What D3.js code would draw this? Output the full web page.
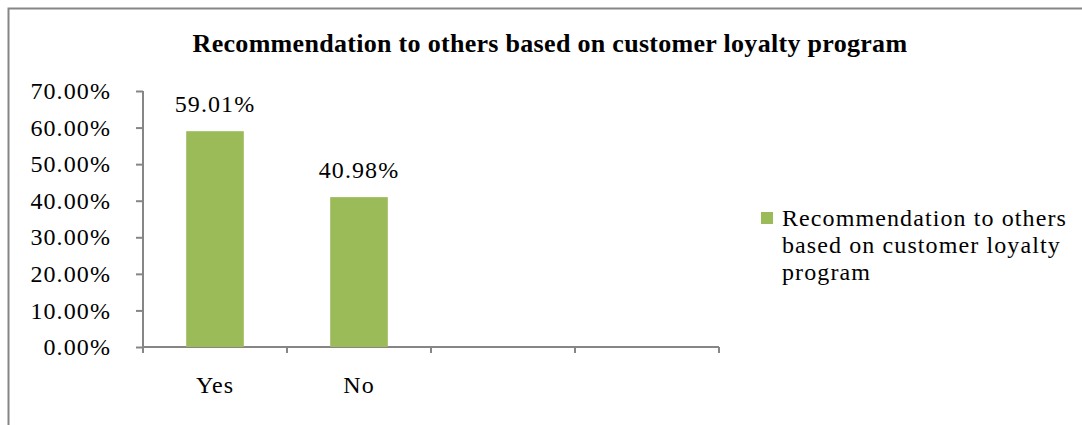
<!DOCTYPE html>
<html lang="en">
<head>
<meta charset="UTF-8">
<title>Recommendation to others</title>
<script src="https://cdn.jsdelivr.net/npm/d3@7/dist/d3.min.js"></script>
<style>
  body { margin: 0; background: #fff; }
  svg text { font-family: "Liberation Serif", "Times New Roman", serif; fill: #000; letter-spacing: 1.1px; }
</style>
</head>
<body>
<svg width="1082" height="425" id="mainsvg"></svg>
<script>
const categories = ['Yes', 'No', '', ' '];
const values = [59.01, 40.98, null, null];
const yTicks = [0, 10, 20, 30, 40, 50, 60, 70];
const title = 'Recommendation to others based on customer loyalty program';
const legendLines = ['Recommendation to others', 'based on customer loyalty', 'program'];

const svg = d3.select('#mainsvg');
const axisColor = '#868686';
const barColor = '#9BBB59';
const fs = 24;

// outer chart frame (cropped on right and bottom)
svg.append('path')
  .attr('d', 'M8.5,425 L8.5,8.5 L1082,8.5')
  .attr('fill', 'none')
  .attr('stroke', axisColor)
  .attr('stroke-width', 2);

const x = d3.scaleBand().domain(categories).range([143, 719])
  .paddingInner(0.6).paddingOuter(0.3);
const y = d3.scaleLinear().domain([0, 70]).range([347, 91]);

svg.append('text')
  .attr('x', 550).attr('y', 52)
  .attr('text-anchor', 'middle')
  .attr('font-size', 26)
  .attr('font-weight', 'bold')
  .style('letter-spacing', '0.3px')
  .text(title);

// y axis
const yAxis = svg.append('g').attr('transform', 'translate(143,0)')
  .call(d3.axisLeft(y).tickValues(yTicks).tickSize(7).tickPadding(25)
    .tickFormat(d => d.toFixed(2) + '%'));
yAxis.select('.domain').attr('d', `M0,${y(70)}V${y(0)}`);
yAxis.selectAll('.domain, line').attr('stroke', axisColor).attr('stroke-width', 2);
yAxis.selectAll('text').attr('font-size', fs).attr('dy', '0.32em');

// x axis with ticks at category boundaries
const xg = svg.append('g').attr('transform', `translate(0,${y(0)})`);
xg.append('line').attr('x1', 143).attr('x2', 719)
  .attr('stroke', axisColor).attr('stroke-width', 2);
const bounds = [143].concat(categories.map(c => x(c) - x.step() * x.paddingInner() / 2 + x.step()));
xg.selectAll('line.tick').data(bounds).enter().append('line')
  .attr('class', 'tick')
  .attr('x1', d => d).attr('x2', d => d)
  .attr('y1', 0).attr('y2', 6)
  .attr('stroke', axisColor).attr('stroke-width', 2);
xg.selectAll('text').data(categories).enter().append('text')
  .attr('x', d => x(d) + x.bandwidth() / 2)
  .attr('y', 46)
  .attr('text-anchor', 'middle')
  .attr('font-size', fs)
  .text(d => d);

// bars
const barData = categories.map((c, i) => ({ c: c, v: values[i] })).filter(d => d.v != null);
svg.selectAll('rect.bar').data(barData).enter().append('rect')
  .attr('class', 'bar')
  .attr('x', d => x(d.c))
  .attr('width', x.bandwidth())
  .attr('y', d => y(d.v))
  .attr('height', d => y(0) - y(d.v))
  .attr('fill', barColor);

svg.selectAll('text.lbl').data(barData).enter().append('text')
  .attr('class', 'lbl')
  .attr('x', d => x(d.c) + x.bandwidth() / 2)
  .attr('y', d => y(d.v) - 19)
  .attr('text-anchor', 'middle')
  .attr('font-size', fs)
  .text(d => d.v.toFixed(2) + '%');

// legend
const lg = svg.append('g').attr('transform', 'translate(761,212)');
lg.append('rect').attr('width', 12).attr('height', 12).attr('fill', barColor);
lg.selectAll('text').data(legendLines).enter().append('text')
  .attr('x', 21)
  .attr('y', (d, i) => 14 + i * 27)
  .attr('font-size', fs)
  .text(d => d);
</script>
</body>
</html>
